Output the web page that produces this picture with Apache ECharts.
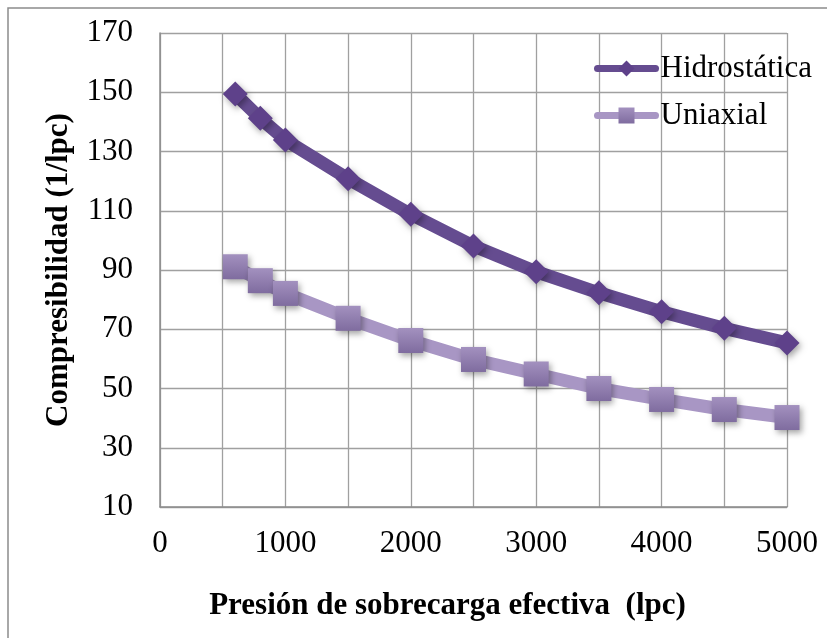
<!DOCTYPE html>
<html>
<head>
<meta charset="utf-8">
<script src="https://cdn.jsdelivr.net/npm/echarts@6/dist/echarts.min.js"></script>
<style>
  html, body { margin: 0; padding: 0; background: #fff; }
  #chart { width: 827px; height: 638px; }
</style>
</head>
<body>
<div id="chart"></div>
<script>
// Effective overburden pressure (lpc)
const presion = [600, 800, 1000, 1500, 2000, 2500, 3000, 3500, 4000, 4500, 5000];
// Compressibility under hydrostatic loading (1/lpc)
const hidrostatica = [149.4, 141.2, 133.9, 120.8, 108.8, 98.1, 89.4, 82.3, 75.9, 70.3, 65.4];
// Compressibility under uniaxial loading (1/lpc)
const uniaxial = [91.1, 86.4, 82.1, 73.7, 66.2, 59.8, 54.9, 50.0, 46.3, 42.9, 40.2];
const nombres = ['Hidrostática', 'Uniaxial'];

const serif = '"Liberation Serif", "Times New Roman", serif';
const pares = (xs, ys) => xs.map((x, i) => [x, ys[i]]);
const sombra = { shadowBlur: 6, shadowColor: 'rgba(0,0,0,0.35)', shadowOffsetX: 2, shadowOffsetY: 3 };

const chart = echarts.init(document.getElementById('chart'));
chart.setOption({
  animation: false,
  backgroundColor: '#fff',
  graphic: [{
    type: 'rect',
    shape: { x: 8, y: 8, width: 840, height: 660 },
    style: { fill: 'none', stroke: '#8c8c8c', lineWidth: 1.5 },
    silent: true
  }],
  grid: { left: 160, right: 40, top: 33, bottom: 131, containLabel: false },
  legend: {
    orient: 'vertical',
    left: 594,
    top: 53,
    padding: 0,
    itemWidth: 58,
    itemHeight: 20,
    itemGap: 16,
    lineStyle: { width: 7 },
    textStyle: { fontFamily: serif, fontSize: 31, color: '#000' },
    data: nombres
  },
  xAxis: {
    type: 'value',
    min: 0, max: 5000, interval: 500,
    name: 'Presión de sobrecarga efectiva  (lpc)',
    nameLocation: 'middle',
    nameGap: 83,
    nameTextStyle: { fontFamily: serif, fontSize: 31, fontWeight: 'bold', color: '#000', padding: [0, 52, 0, 0] },
    axisLine: { show: true, lineStyle: { color: '#8c8c8c', width: 1.5 } },
    axisTick: { show: false },
    axisLabel: {
      fontFamily: serif, fontSize: 31, color: '#000', margin: 21,
      formatter: v => (v % 1000 === 0 ? String(v) : '')
    },
    splitLine: { show: true, lineStyle: { color: '#a0a0a0', width: 1.3 } }
  },
  yAxis: {
    type: 'value',
    min: 10, max: 170, interval: 20,
    name: 'Compresibilidad (1/lpc)',
    nameLocation: 'middle',
    nameGap: 86,
    nameTextStyle: { fontFamily: serif, fontSize: 31, fontWeight: 'bold', color: '#000' },
    axisLine: { show: true, lineStyle: { color: '#8c8c8c', width: 1.5 } },
    axisTick: { show: false },
    axisLabel: { fontFamily: serif, fontSize: 31, color: '#000', margin: 27 },
    splitLine: { show: true, lineStyle: { color: '#a0a0a0', width: 1.3 } }
  },
  series: [
    {
      name: nombres[0],
      type: 'line',
      data: pares(presion, hidrostatica),
      symbol: 'diamond',
      symbolSize: 25,
      lineStyle: { color: '#654c90', width: 13, cap: 'round', join: 'round' },
      itemStyle: Object.assign({ color: '#5e418a' }, sombra),
      z: 3
    },
    {
      name: nombres[1],
      type: 'line',
      data: pares(presion, uniaxial),
      symbol: 'rect',
      symbolSize: 25,
      lineStyle: { color: '#a896c4', width: 13, cap: 'round', join: 'round' },
      itemStyle: Object.assign({
        color: new echarts.graphic.LinearGradient(0, 0, 0, 1, [
          { offset: 0, color: '#a391bf' },
          { offset: 1, color: '#7f6c9f' }
        ])
      }, sombra),
      z: 2
    }
  ]
});
</script>
</body>
</html>
